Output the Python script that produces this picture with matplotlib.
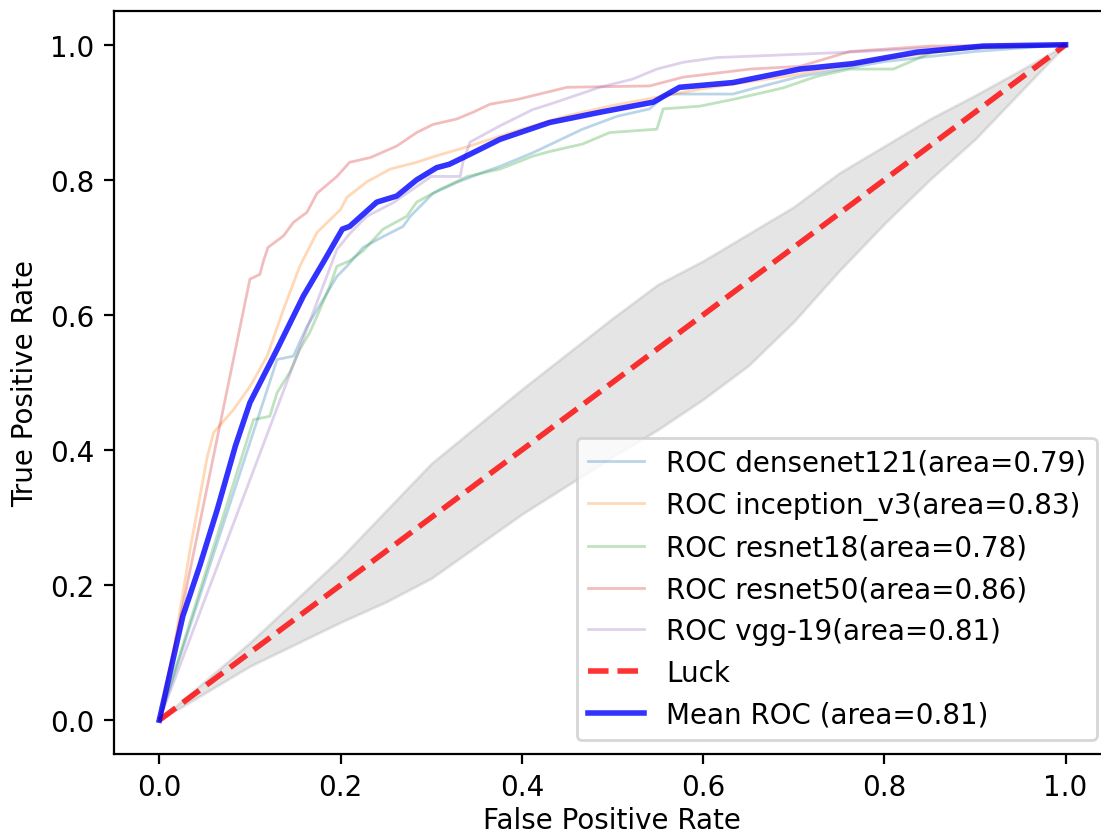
import matplotlib
matplotlib.use('Agg')
import matplotlib.pyplot as plt

# per-model ROC curves
densenet_fpr = [0, 0.13, 0.148, 0.163, 0.181, 0.196, 0.207, 0.225, 0.247, 0.269, 0.277, 0.302, 0.328,
                0.357, 0.376, 0.412, 0.467, 0.505, 0.541, 0.56, 0.633, 0.652, 0.707, 0.8, 0.9, 1.0]
densenet_tpr = [0, 0.534, 0.539, 0.583, 0.623, 0.657, 0.672, 0.70, 0.716, 0.731, 0.746, 0.78, 0.796,
                0.811, 0.82, 0.84, 0.875, 0.894, 0.905, 0.927, 0.927, 0.934, 0.953, 0.975, 0.99, 1.0]

inception_fpr = [0, 0.016, 0.034, 0.053, 0.06, 0.082, 0.10, 0.119, 0.137, 0.155, 0.174, 0.2, 0.207,
                 0.229, 0.255, 0.284, 0.302, 0.34, 0.40, 0.45, 0.5, 0.6, 0.7, 0.8, 0.9, 1.0]
inception_tpr = [0, 0.105, 0.253, 0.39, 0.426, 0.46, 0.494, 0.539, 0.608, 0.672, 0.722, 0.756, 0.774,
                 0.797, 0.816, 0.826, 0.834, 0.849, 0.875, 0.895, 0.91, 0.935, 0.955, 0.98, 0.995, 1.0]

resnet18_fpr = [0, 0.104, 0.122, 0.13, 0.144, 0.155, 0.166, 0.174, 0.188, 0.196, 0.21, 0.225, 0.247,
                0.273, 0.284, 0.31, 0.34, 0.376, 0.412, 0.431, 0.467, 0.497, 0.549, 0.556, 0.596,
                0.633, 0.688, 0.725, 0.762, 0.81, 0.836, 0.853, 0.9, 1.0]
resnet18_tpr = [0, 0.445, 0.45, 0.485, 0.515, 0.549, 0.574, 0.598, 0.642, 0.672, 0.68, 0.695, 0.727,
                0.746, 0.767, 0.786, 0.805, 0.816, 0.835, 0.842, 0.853, 0.87, 0.875, 0.905, 0.909,
                0.919, 0.936, 0.953, 0.964, 0.964, 0.979, 0.989, 0.995, 1.0]

resnet50_fpr = [0, 0.10, 0.111, 0.115, 0.12, 0.137, 0.148, 0.163, 0.174, 0.196, 0.21, 0.233, 0.262,
                0.284, 0.302, 0.328, 0.346, 0.365, 0.395, 0.45, 0.541, 0.578, 0.652, 0.707, 0.762,
                0.85, 1.0]
resnet50_tpr = [0, 0.653, 0.66, 0.68, 0.70, 0.717, 0.737, 0.752, 0.78, 0.805, 0.826, 0.833, 0.85,
                0.87, 0.882, 0.89, 0.90, 0.912, 0.919, 0.937, 0.939, 0.952, 0.964, 0.968, 0.99,
                0.998, 1.0]

vgg_fpr = [0, 0.196, 0.21, 0.229, 0.258, 0.30, 0.332, 0.335, 0.343, 0.376, 0.412, 0.431, 0.486,
           0.522, 0.549, 0.578, 0.615, 0.707, 0.76, 0.85, 1.0]
vgg_tpr = [0, 0.697, 0.72, 0.746, 0.766, 0.805, 0.805, 0.826, 0.856, 0.88, 0.904, 0.912, 0.937,
           0.949, 0.964, 0.974, 0.981, 0.986, 0.989, 0.995, 1.0]

# mean curve
mean_fpr = [0, 0.026, 0.045, 0.064, 0.084, 0.10, 0.13, 0.159, 0.181, 0.202, 0.21, 0.24, 0.262, 0.284,
            0.306, 0.32, 0.343, 0.376, 0.431, 0.486, 0.545, 0.574, 0.633, 0.707, 0.765, 0.836, 0.909, 1.0]
mean_tpr = [0, 0.154, 0.23, 0.312, 0.406, 0.47, 0.549, 0.628, 0.678, 0.727, 0.731, 0.767, 0.776, 0.80,
            0.818, 0.823, 0.838, 0.86, 0.885, 0.90, 0.915, 0.937, 0.944, 0.964, 0.972, 0.989, 0.998, 1.0]

# grey band around the chance line
band_fpr = [0, 0.1, 0.2, 0.25, 0.3, 0.4, 0.5, 0.55, 0.6, 0.65, 0.7, 0.75, 0.8, 0.85, 0.9, 0.95, 1.0]
band_upper = [0, 0.115, 0.24, 0.31, 0.38, 0.49, 0.595, 0.645, 0.68, 0.72, 0.76, 0.81, 0.85, 0.89,
              0.925, 0.962, 1.0]
band_lower = [0, 0.08, 0.145, 0.175, 0.21, 0.305, 0.39, 0.43, 0.475, 0.525, 0.59, 0.665, 0.735, 0.80,
              0.86, 0.93, 1.0]

models = ['densenet121', 'inception_v3', 'resnet18', 'resnet50', 'vgg-19']
aucs = [0.79, 0.83, 0.78, 0.86, 0.81]
mean_auc = 0.81
curves = [(densenet_fpr, densenet_tpr), (inception_fpr, inception_tpr), (resnet18_fpr, resnet18_tpr),
          (resnet50_fpr, resnet50_tpr), (vgg_fpr, vgg_tpr)]

fig = plt.figure(figsize=(1101 / 200, 837 / 200), dpi=200)
ax = fig.add_axes([0.1035, 0.098, 0.9055, 0.8877])

ax.fill_between(band_fpr, band_lower, band_upper, color='grey', alpha=.2)
for (fpr, tpr), name, a in zip(curves, models, aucs):
    ax.plot(fpr, tpr, lw=1, alpha=0.3, label='ROC %s(area=%0.2f)' % (name, a))
ax.plot([0, 1], [0, 1], linestyle='--', lw=2, color='r', alpha=.8, label='Luck')
ax.plot(mean_fpr, mean_tpr, color='b', lw=2, alpha=.8, label='Mean ROC (area=%0.2f)' % mean_auc)

ax.set_xlim(-0.05, 1.05)
ax.set_ylim(-0.05, 1.05)
ax.set_xlabel('False Positive Rate', labelpad=1.5)
ax.set_ylabel('True Positive Rate')
ax.legend(loc='lower right')

fig.savefig('out.png', dpi=200)
